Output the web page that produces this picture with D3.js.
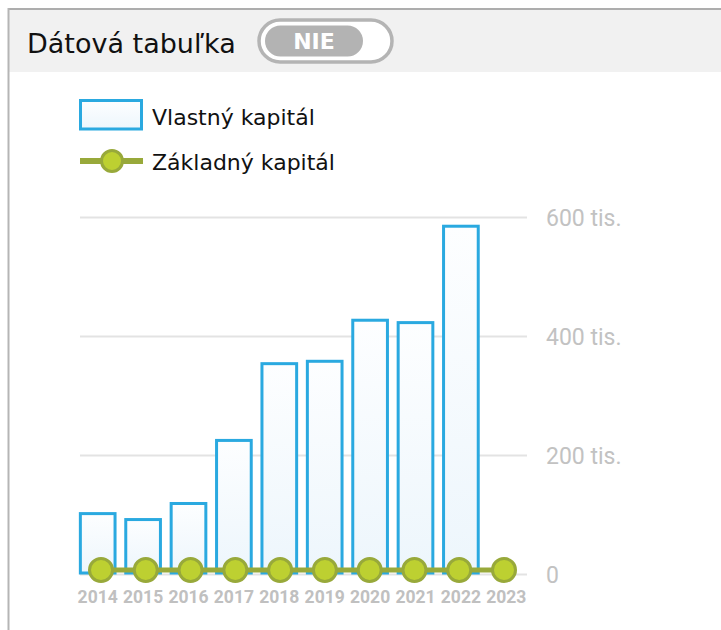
<!DOCTYPE html>
<html>
<head>
<meta charset="utf-8">
<script src="https://cdn.jsdelivr.net/npm/d3@7"></script>
<style>
  body { margin: 0; background: #fff; }
  svg { display: block; }
</style>
</head>
<body>
<svg id="chart"></svg>
<script>
// data
const years = ["2014", "2015", "2016", "2017", "2018", "2019", "2020", "2021", "2022", "2023"];
const vlastnyKapital = [101500, 91500, 118500, 224500, 353500, 357500, 426500, 422500, 584500, null];
const zakladnyKapital = [6640, 6640, 6640, 6640, 6640, 6640, 6640, 6640, 6640, 6640];
const yTicks = [0, 200000, 400000, 600000];
const seriesNames = ["Vlastný kapitál", "Základný kapitál"];

const width = 721;
const height = 630;
const blue = "#2aa9e0";
const olive = "#98a93a";
const lime = "#bdd031";

let svg = d3.select("#chart").attr("width", width).attr("height", height);

let defs = svg.append("defs");
let grad = defs.append("linearGradient")
  .attr("id", "barFill")
  .attr("x1", 0).attr("y1", 0).attr("x2", 0).attr("y2", 1);
grad.append("stop").attr("offset", "0%").attr("stop-color", "#fdfeff");
grad.append("stop").attr("offset", "100%").attr("stop-color", "#edf6fc");

// header band + frame
svg.append("rect").attr("x", 9).attr("y", 9).attr("width", width - 9).attr("height", 63).attr("fill", "#f1f1f1");
svg.append("line").attr("x1", 8).attr("y1", 9).attr("x2", width).attr("y2", 9)
  .attr("stroke", "#adadad").attr("stroke-width", 2);
svg.append("line").attr("x1", 8.5).attr("y1", 8).attr("x2", 8.5).attr("y2", height)
  .attr("stroke", "#b5b5b5").attr("stroke-width", 2);

svg.append("text").attr("x", 27).attr("y", 53)
  .style("font-family", "DejaVu Sans").style("font-size", "27px").attr("fill", "#111")
  .text("Dátová tabuľka");

// prepínač
svg.append("rect").attr("x", 259).attr("y", 20).attr("width", 133).attr("height", 42).attr("rx", 21)
  .attr("fill", "#fff").attr("stroke", "#b4b4b4").attr("stroke-width", 3.5);
svg.append("rect").attr("x", 265).attr("y", 25.5).attr("width", 98).attr("height", 31).attr("rx", 15.5)
  .attr("fill", "#b3b3b3");
svg.append("text").attr("x", 314).attr("y", 49)
  .attr("text-anchor", "middle")
  .style("font-family", "DejaVu Sans").style("font-size", "22px").style("font-weight", "bold")
  .attr("fill", "#fff").text("NIE");

// legenda
let legend = svg.append("g");
legend.append("rect").attr("x", 80.5).attr("y", 100.5).attr("width", 61).attr("height", 28.5)
  .attr("fill", "url(#barFill)").attr("stroke", blue).attr("stroke-width", 3);
legend.append("text").attr("x", 152).attr("y", 125)
  .style("font-family", "DejaVu Sans").style("font-size", "22px").attr("fill", "#111")
  .text(seriesNames[0]);
legend.append("line").attr("x1", 80).attr("x2", 143).attr("y1", 161).attr("y2", 161)
  .attr("stroke", olive).attr("stroke-width", 6);
legend.append("circle").attr("cx", 112).attr("cy", 161).attr("r", 10.5)
  .attr("fill", lime).attr("stroke", olive).attr("stroke-width", 3);
legend.append("text").attr("x", 152).attr("y", 170)
  .style("font-family", "DejaVu Sans").style("font-size", "22px").attr("fill", "#111")
  .text(seriesNames[1]);

// škály
let scaleX = d3.scaleBand().domain(years).range([75, 529]).paddingInner(0.17).paddingOuter(0.085);
let scalePoint = d3.scalePoint().domain(years).range([101, 504]);
let scaleY = d3.scaleLinear().domain([0, 600000]).range([574, 217]);

// mriežka + popisky osi Y
let axisY = d3.axisRight(scaleY).tickValues(yTicks)
  .tickSize(447)
  .tickFormat(d => d === 0 ? "0" : d3.format("d")(d / 1000) + " tis.");
let gy = svg.append("g").attr("transform", "translate(80,0)").call(axisY);
gy.select(".domain").remove();
gy.selectAll(".tick line").attr("stroke", "#e3e3e3").attr("stroke-width", 2);
gy.selectAll(".tick text")
  .attr("x", 466).attr("dy", "0.35em")
  .style("font-family", "Roboto").style("font-size", "23px").attr("fill", "#c2c2c2");

// stĺpce
svg.append("g").selectAll("rect")
  .data(years.map((y, i) => ({ year: y, value: vlastnyKapital[i] })).filter(d => d.value != null))
  .enter()
  .append("rect")
  .attr("x", d => scaleX(d.year) + 1.5)
  .attr("y", d => scaleY(d.value))
  .attr("width", scaleX.bandwidth() - 3)
  .attr("height", d => scaleY(0) - scaleY(d.value) - 1)
  .attr("fill", "url(#barFill)")
  .attr("stroke", blue)
  .attr("stroke-width", 3);

// os X
let axisX = d3.axisBottom(scaleX).tickSize(0);
let gx = svg.append("g").attr("transform", "translate(0,588)").call(axisX);
gx.select(".domain").remove();
gx.selectAll(".tick text")
  .attr("dy", "0.71em")
  .style("font-family", "Roboto").style("font-size", "17.5px").style("font-weight", "bold")
  .attr("fill", "#c0c0c0");

// čiara základného kapitálu
let lineData = years.map((y, i) => ({ year: y, value: zakladnyKapital[i] }));
let line = d3.line().x(d => scalePoint(d.year)).y(d => scaleY(d.value));
svg.append("path").datum(lineData).attr("d", line)
  .attr("fill", "none").attr("stroke", olive).attr("stroke-width", 5);
svg.append("g").selectAll("circle")
  .data(lineData)
  .enter()
  .append("circle")
  .attr("cx", d => scalePoint(d.year))
  .attr("cy", d => scaleY(d.value))
  .attr("r", 11.5)
  .attr("fill", lime)
  .attr("stroke", olive)
  .attr("stroke-width", 3);
</script>
</body>
</html>
